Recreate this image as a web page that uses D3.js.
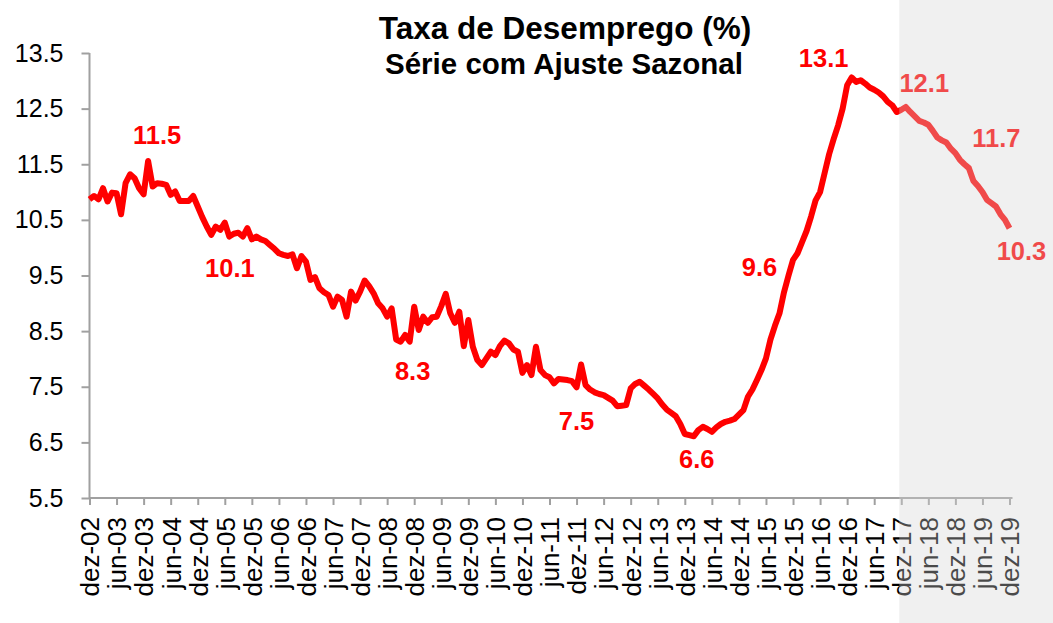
<!DOCTYPE html>
<html>
<head>
<meta charset="utf-8">
<script src="https://cdn.jsdelivr.net/npm/d3@7"></script>
<style>
  body { margin: 0; background: #fff; }
  svg { display: block; font-family: "Liberation Sans", Arial, sans-serif; }
</style>
</head>
<body>
<svg id="chart" width="1053" height="623"></svg>
<script>
// taxa de desemprego mensal, dez-02 ... dez-19 (com ajuste sazonal)
var taxa = [
  10.87, 10.93, 10.87, 11.07, 10.83, 10.99, 10.98, 10.60, 11.16, 11.32, 11.25, 11.07,
  10.96, 11.56, 11.10, 11.16, 11.15, 11.13, 10.95, 11.01, 10.84, 10.84, 10.84, 10.93,
  10.74, 10.55, 10.38, 10.23, 10.38, 10.32, 10.45, 10.20, 10.25, 10.27, 10.20, 10.35,
  10.15, 10.20, 10.15, 10.12, 10.05, 9.98, 9.90, 9.87, 9.85, 9.88, 9.63, 9.85,
  9.75, 9.42, 9.47, 9.27, 9.20, 9.15, 8.94, 9.12, 9.06, 8.76, 9.21, 9.05,
  9.21, 9.41, 9.31, 9.18, 9.00, 8.91, 8.76, 8.91, 8.35, 8.31, 8.43, 8.31,
  8.94, 8.52, 8.76, 8.65, 8.75, 8.76, 8.95, 9.17, 8.82, 8.65, 8.85, 8.23,
  8.70, 8.22, 7.98, 7.89, 8.01, 8.13, 8.07, 8.23, 8.33, 8.28, 8.17, 8.13,
  7.75, 7.89, 7.71, 8.22, 7.80, 7.71, 7.67, 7.56, 7.64, 7.63, 7.62, 7.60,
  7.49, 7.90, 7.53, 7.45, 7.40, 7.37, 7.35, 7.30, 7.25, 7.15, 7.16, 7.17,
  7.47, 7.55, 7.59, 7.52, 7.45, 7.37, 7.29, 7.18, 7.09, 7.03, 6.97, 6.83,
  6.65, 6.63, 6.61, 6.72, 6.78, 6.74, 6.69, 6.77, 6.83, 6.87, 6.89, 6.92,
  7.00, 7.08, 7.32, 7.45, 7.62, 7.80, 8.01, 8.35, 8.60, 8.82, 9.20, 9.50,
  9.78, 9.90, 10.10, 10.30, 10.56, 10.85, 11.00, 11.34, 11.68, 11.95, 12.20, 12.50,
  12.92, 13.06, 12.98, 13.01, 12.95, 12.88, 12.84, 12.79, 12.72, 12.62, 12.56, 12.44,
  12.48, 12.53, 12.44, 12.36, 12.28, 12.25, 12.21, 12.10, 11.98, 11.93, 11.89, 11.78,
  11.70, 11.58, 11.50, 11.43, 11.20, 11.11, 11.00, 10.86, 10.80, 10.74, 10.60, 10.50,
  10.35
];

var mesLabels = ["dez-02","jun-03","dez-03","jun-04","dez-04","jun-05","dez-05","jun-06",
  "dez-06","jun-07","dez-07","jun-08","dez-08","jun-09","dez-09","jun-10","dez-10","jun-11",
  "dez-11","jun-12","dez-12","jun-13","dez-13","jun-14","dez-14","jun-15","dez-15","jun-16",
  "dez-16","jun-17","dez-17","jun-18","dez-18","jun-19","dez-19"];

var yTicks = [5.5, 6.5, 7.5, 8.5, 9.5, 10.5, 11.5, 12.5, 13.5];

// rotulos em destaque: texto e mes de referencia
var destaqueTexto = ["11.5", "10.1", "8.3", "7.5", "6.6", "9.6", "13.1", "12.1", "11.7", "10.3"];
var destaqueMes   = [13, 36, 69, 108, 134, 155, 169, 180, 192, 204];
// deslocamento dos rotulos em relacao ao ponto (px)
var destaqueDx = [9, -22, 12, 0, 3, -29, -28, 23, 41, 12];
var destaqueDy = [-17, 38, 38, 43, 32, 0, -10, -18, -6, 32];

var inicioProjecao = 180; // dez-17

var svg = d3.select("#chart"),
    W = +svg.attr("width"),
    H = +svg.attr("height");

var x = d3.scaleLinear()
    .domain([0, taxa.length - 1])
    .range([89.5, 1009.5]);

var y = d3.scaleLinear()
    .domain([5.5, 13.5])
    .range([498, 53]);

svg.append("rect").attr("width", W).attr("height", H).attr("fill", "#fff");

// titulo
svg.append("text")
    .attr("x", 565).attr("y", 39)
    .attr("text-anchor", "middle")
    .style("font-weight", "bold").style("font-size", "31.5px")
    .text("Taxa de Desemprego (%)");
svg.append("text")
    .attr("x", 564).attr("y", 74)
    .attr("text-anchor", "middle")
    .style("font-weight", "bold").style("font-size", "29.5px")
    .text("Série com Ajuste Sazonal");

// eixo y
var gy = svg.append("g")
    .attr("transform", "translate(" + x(0) + ",0)")
    .call(d3.axisLeft(y).tickValues(yTicks).tickSize(8).tickPadding(18)
        .tickFormat(d3.format(".1f")));
gy.selectAll("text").style("font-size", "25px").attr("fill", "#000");

// eixo x
var gx = svg.append("g")
    .attr("transform", "translate(0," + y(5.5) + ")")
    .call(d3.axisBottom(x).tickValues(d3.range(0, taxa.length, 6)).tickSize(7)
        .tickFormat(function(d, i) { return mesLabels[i]; }));
gx.selectAll("text")
    .attr("transform", "rotate(-90)")
    .attr("x", -19).attr("y", 0).attr("dy", "0.36em")
    .style("text-anchor", "end")
    .style("font-size", "26px").attr("fill", "#000");

svg.selectAll(".domain, .tick line")
    .attr("stroke", "#a0a0a0").attr("stroke-width", 2);
gx.select(".domain").attr("d", "M" + x(0) + ",0H" + (x(taxa.length - 1) + 3));
gy.select(".domain").attr("d", "M0," + y(13.5) + "V" + y(5.5));

// serie
var linha = d3.line()
    .x(function(d, i) { return x(i); })
    .y(function(d) { return y(d); });

svg.append("path")
    .datum(taxa)
    .attr("d", linha)
    .attr("fill", "none")
    .attr("stroke", "#ff0000")
    .attr("stroke-width", 6)
    .attr("stroke-linejoin", "round");

// rotulos
svg.selectAll(".destaque")
    .data(destaqueTexto)
  .enter().append("text")
    .attr("class", "destaque")
    .attr("x", function(d, i) { return x(destaqueMes[i]) + destaqueDx[i]; })
    .attr("y", function(d, i) { return y(taxa[destaqueMes[i]]) + destaqueDy[i]; })
    .attr("text-anchor", "middle")
    .attr("fill", "#ff0000")
    .style("font-weight", "bold").style("font-size", "25.5px")
    .text(function(d) { return d; });

// area de projecao (sombreada)
svg.append("rect")
    .attr("x", x(inicioProjecao) - 2)
    .attr("y", 0)
    .attr("width", W - x(inicioProjecao) + 2)
    .attr("height", H)
    .attr("fill", "#d5d5d5")
    .attr("opacity", 0.35);
</script>
</body>
</html>
